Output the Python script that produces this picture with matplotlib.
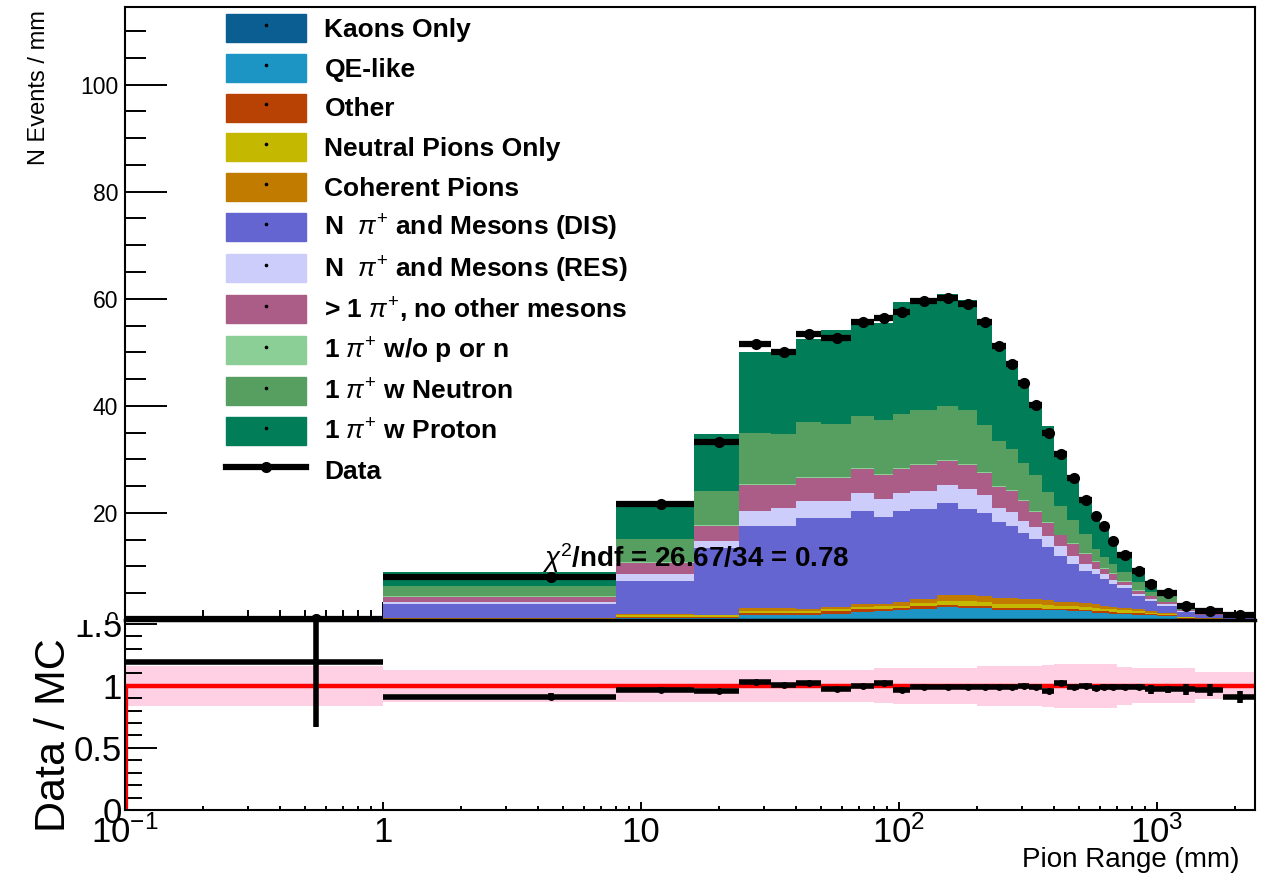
import numpy as np
import matplotlib
matplotlib.use("Agg")
import matplotlib.pyplot as plt
from matplotlib.patches import Patch, Rectangle
from matplotlib.lines import Line2D
from matplotlib.legend_handler import HandlerPatch
from matplotlib.ticker import FixedLocator, FixedFormatter, MultipleLocator, LogLocator, NullFormatter
from matplotlib.transforms import Bbox, TransformedBbox

plt.rcParams['font.family'] = ['Liberation Sans', 'DejaVu Sans']
plt.rcParams['mathtext.fontset'] = 'custom'
plt.rcParams['mathtext.rm'] = 'Liberation Sans'
plt.rcParams['mathtext.it'] = 'Liberation Sans:italic'
plt.rcParams['mathtext.bf'] = 'Liberation Sans:bold'

# ---------------- data ----------------
bin_edges = [0.1, 1, 8, 16, 24, 32, 40, 50, 65, 80, 95, 110, 140, 170, 200, 230, 260,
             290, 320, 360, 400, 450, 500, 560, 600, 650, 700, 800, 900, 1000, 1200,
             1400, 1800, 2400]

kaons_only = [0.0, 0.02, 0.05, 0.05, 0.1, 0.1, 0.1, 0.1, 0.1, 0.1, 0.1, 0.1, 0.15, 0.15, 0.15,
              0.1, 0.1, 0.1, 0.1, 0.1, 0.1, 0.1, 0.1, 0.1, 0.1, 0.1, 0.1, 0.1, 0.1, 0.05,
              0.02, 0.01, 0.01]
qe_like = [0.01, 0.1, 0.35, 0.3, 0.8, 0.8, 0.8, 1.1, 1.4, 1.5, 1.7, 1.9, 2.35, 2.15, 2.05,
           1.8, 1.8, 1.8, 1.8, 1.7, 1.7, 1.6, 1.5, 1.3, 1.2, 1.1, 1.0, 0.9, 0.8, 0.65,
           0.25, 0.1, 0.05]
other = [0.01, 0.06, 0.2, 0.2, 0.5, 0.5, 0.4, 0.5, 0.6, 0.5, 0.5, 0.7, 0.35, 0.3, 0.35,
         0.3, 0.3, 0.3, 0.3, 0.3, 0.3, 0.3, 0.3, 0.3, 0.3, 0.3, 0.3, 0.3, 0.2, 0.2,
         0.1, 0.05, 0.03]
neutral_pions = [0.01, 0.06, 0.25, 0.3, 0.3, 0.3, 0.4, 0.4, 0.4, 0.5, 0.4, 0.5, 0.75, 0.9, 0.85,
                 0.8, 0.8, 0.7, 0.7, 0.7, 0.6, 0.6, 0.6, 0.6, 0.5, 0.5, 0.4, 0.4, 0.3, 0.3,
                 0.15, 0.12, 0.05]
coherent = [0.01, 0.06, 0.25, 0.15, 0.5, 0.5, 0.4, 0.4, 0.4, 0.4, 0.6, 0.7, 1.1, 1.1, 1.1,
            1.2, 1.1, 1.1, 1.0, 0.9, 0.7, 0.7, 0.7, 0.6, 0.6, 0.5, 0.4, 0.3, 0.3, 0.2,
            0.1, 0.07, 0.04]
npi_dis = [0.05, 2.7, 6.2, 12.5, 15.4, 15.4, 16.9, 16.5, 17.4, 16.2, 17.0, 16.8, 17.1, 16.2, 15.4,
           14.1, 13.5, 12.3, 11.2, 9.9, 8.6, 7.2, 6.0, 5.7, 5.0, 4.2, 3.8, 2.4, 1.9, 1.3,
           0.88, 0.5, 0.3]
npi_res = [0.01, 0.4, 1.3, 1.3, 2.7, 3.4, 3.3, 3.3, 3.4, 3.4, 3.4, 3.4, 3.4, 3.7, 3.4,
           2.7, 2.6, 2.2, 2.2, 2.0, 1.8, 1.5, 1.2, 1.0, 0.9, 0.8, 0.5, 0.5, 0.4, 0.3,
           0.15, 0.08, 0.05]
multi_pi = [0.02, 0.95, 2.1, 2.8, 4.9, 4.2, 4.3, 4.3, 4.5, 4.4, 4.5, 4.8, 4.5, 4.5, 4.1,
            3.8, 3.9, 3.8, 2.8, 2.5, 2.0, 2.2, 2.0, 1.2, 1.0, 1.1, 0.6, 0.6, 0.4, 0.3,
            0.25, 0.15, 0.1]
one_pi_no_pn = [0.01, 0.1, 0.15, 0.15, 0.2, 0.2, 0.2, 0.2, 0.2, 0.2, 0.2, 0.2, 0.2, 0.2, 0.2,
                0.2, 0.2, 0.2, 0.2, 0.2, 0.15, 0.15, 0.15, 0.15, 0.1, 0.1, 0.1, 0.1, 0.1, 0.05,
                0.05, 0.02, 0.02]
one_pi_neutron = [0.03, 1.95, 4.35, 6.35, 9.6, 9.3, 10.1, 9.8, 9.7, 10.2, 10.0, 10.1, 10.0, 10.0, 8.9,
                  8.5, 7.6, 6.8, 6.8, 5.6, 5.35, 4.35, 3.55, 2.35, 2.1, 1.8, 1.8, 1.5, 0.8, 1.05,
                  0.45, 0.25, 0.2]
one_pi_proton = [0.05, 2.5, 7.1, 10.6, 15.1, 14.9, 15.6, 17.6, 17.6, 18.0, 21.0, 20.9, 20.9, 20.5, 19.8,
                 18.2, 16.4, 15.0, 13.4, 12.4, 9.1, 8.1, 6.3, 6.6, 5.9, 4.4, 3.3, 2.2, 1.7, 0.75,
                 0.38, 0.3, 0.25]

data_values = [0.25, 8.1, 21.6, 33.3, 51.6, 50.1, 53.5, 52.6, 55.7, 56.5, 57.6, 59.5, 60.2, 59.1, 55.7,
               51.2, 47.8, 44.3, 40.1, 34.9, 31.0, 26.5, 22.4, 19.5, 17.5, 14.8, 12.2, 9.2, 6.8, 5.0,
               2.7, 1.6, 1.0]
data_errors = [0.11, 0.25, 0.45, 0.55, 0.6, 0.6, 0.55, 0.5, 0.55, 0.6, 0.6, 0.5, 0.55, 0.55, 0.55,
               0.55, 0.55, 0.5, 0.45, 0.45, 0.4, 0.4, 0.35, 0.4, 0.35, 0.35, 0.3, 0.25, 0.25, 0.15,
               0.12, 0.08, 0.05]
mc_rel_unc = [0.16, 0.13, 0.13, 0.13, 0.13, 0.13, 0.13, 0.13, 0.13, 0.14, 0.145, 0.145, 0.145, 0.145, 0.16,
              0.16, 0.16, 0.16, 0.16, 0.17, 0.175, 0.175, 0.175, 0.175, 0.175, 0.175, 0.155, 0.14, 0.14, 0.14,
              0.14, 0.11, 0.11]

chi2_value = 26.67
ndf_value = 34

components = [
    ("Kaons Only", kaons_only, "#0b5e91"),
    ("QE-like", qe_like, "#1c94c4"),
    ("Other", other, "#b84203"),
    ("Neutral Pions Only", neutral_pions, "#c5b800"),
    ("Coherent Pions", coherent, "#c17c00"),
    (r"N  $\pi^{+}$ and Mesons (DIS)", npi_dis, "#6565d1"),
    (r"N  $\pi^{+}$ and Mesons (RES)", npi_res, "#cdcdfb"),
    (r"> 1 $\pi^{+}$, no other mesons", multi_pi, "#ab5c87"),
    (r"1 $\pi^{+}$ w/o p or n", one_pi_no_pn, "#8ccf96"),
    (r"1 $\pi^{+}$ w Neutron", one_pi_neutron, "#579e61"),
    (r"1 $\pi^{+}$ w Proton", one_pi_proton, "#017d58"),
]

xtick_values = [0.1, 1, 10, 100, 1000]
xtick_labels = [r"$10^{-1}$", "1", "10", r"$10^{2}$", r"$10^{3}$"]
ratio_tick_values = [0, 0.5, 1, 1.5]
ratio_tick_labels = ["0", "0.5", "1", "1.5"]

# ---------------- figure ----------------
W, H = 1264, 875
fig = plt.figure(figsize=(W / 100, H / 100), dpi=100)


def rect(x0, y0, x1, y1):
    return [x0 / W, 1 - y1 / H, (x1 - x0) / W, (y1 - y0) / H]


ax_r = fig.add_axes(rect(125, 620, 1255, 810))
ax = fig.add_axes(rect(125, 7, 1255, 620))

edges = np.array(bin_edges, dtype=float)
lo, hi = edges[:-1], edges[1:]
centers = 0.5 * (lo + hi)
data = np.array(data_values)
derr = np.array(data_errors)

base = np.zeros(len(centers))
handles = []
for label, vals, color in components:
    top = base + np.array(vals)
    ax.stairs(top, edges, baseline=base, fill=True, color=color, lw=0, zorder=2)
    base = top
    handles.append((Patch(facecolor=color, edgecolor=color),
                    Line2D([], [], marker='o', ms=1.6, color='black', ls='')))
mc_total = base

ax.errorbar(centers, data, xerr=[centers - lo, hi - centers], yerr=derr, fmt='o',
            color='black', ms=7, elinewidth=4.5, capsize=0, zorder=5)

ax.set_xscale('log')
ax.set_xlim(edges[0], edges[-1])
ax.set_ylim(0, 114.5)
ax.yaxis.set_major_locator(MultipleLocator(20))
ax.yaxis.set_minor_locator(MultipleLocator(5))
ax.xaxis.set_major_locator(FixedLocator(xtick_values))
ax.xaxis.set_minor_locator(LogLocator(base=10, subs=np.arange(2, 10), numticks=20))
ax.xaxis.set_minor_formatter(NullFormatter())
ax.tick_params(axis='y', which='major', direction='in', length=30, width=1.4,
               labelsize=16.5, pad=5, right=False)
ax.tick_params(axis='y', which='minor', direction='in', length=15, width=1.4, right=False)
ax.tick_params(axis='x', which='major', direction='in', length=13, width=1.4,
               labelbottom=False, top=False)
ax.tick_params(axis='x', which='minor', direction='in', length=7, width=1.4, top=False)
for s in ax.spines.values():
    s.set_linewidth(1.5)
ax.spines['bottom'].set_linewidth(2.5)
ax.set_ylabel('N Events / mm', fontsize=17, ha='right', va='center')
ax.yaxis.set_label_coords((39 - 125) / 1130, 1 - 3 / 613)

ax.text(0.505, 0.101,
        r"$\chi^{2}$/ndf = " + f"{chi2_value:.2f}/{ndf_value} = {chi2_value / ndf_value:.2f}",
        transform=ax.transAxes, ha='center', va='center', fontsize=20, fontweight='bold', zorder=6)

# legend: every row gets the same handle box; the coloured box inside is 28 px high
LEG_FS = 19.0
BOX_PT = 28 * 72 / 100


def centered_box(legend, orig_handle, xdescent, ydescent, width, height, fontsize):
    return Rectangle((-xdescent, -ydescent + (height - BOX_PT) / 2), width, BOX_PT)


handles.append(Line2D([], [], color='black', lw=4.5, marker='o', ms=7))
labels = [c[0] for c in components] + ["Data"]
ax.legend(handles, labels, loc='upper left', bbox_to_anchor=(226 / W, 1 - 13 / H),
          bbox_transform=fig.transFigure, frameon=False, borderpad=0, borderaxespad=0,
          prop={'weight': 'bold', 'size': LEG_FS}, handlelength=3.03, handleheight=1.36,
          labelspacing=0.38, handletextpad=0.7,
          handler_map={Patch: HandlerPatch(patch_func=centered_box)})

# ---------------- ratio panel ----------------
ratio = data / mc_total
ratio_err = derr / mc_total
band = np.array(mc_rel_unc)
ones = np.ones(len(centers))

ax_r.stairs(ones + band, edges, baseline=ones - band, fill=True, color='#ffd0e4', lw=0, zorder=1)
ax_r.stairs(ones, edges, baseline=None, color='#ff0000', lw=3.2, zorder=2)
ax_r.vlines(edges[0], 0, ones[0], color='#ff0000', lw=4.5, zorder=2)
ax_r.errorbar(centers, ratio, xerr=[centers - lo, hi - centers], yerr=ratio_err, fmt='o',
              color='black', ms=4, elinewidth=4, capsize=0, zorder=3)

ax_r.set_xscale('log')
ax_r.set_xlim(edges[0], edges[-1])
ax_r.set_ylim(0, 1.53)
ax_r.xaxis.set_major_locator(FixedLocator(xtick_values))
ax_r.xaxis.set_major_formatter(FixedFormatter(xtick_labels))
ax_r.xaxis.set_minor_locator(LogLocator(base=10, subs=np.arange(2, 10), numticks=20))
ax_r.xaxis.set_minor_formatter(NullFormatter())
ax_r.yaxis.set_major_locator(FixedLocator(ratio_tick_values))
ax_r.yaxis.set_major_formatter(FixedFormatter(ratio_tick_labels))
ax_r.yaxis.set_minor_locator(MultipleLocator(0.1))
ax_r.tick_params(axis='x', which='major', direction='in', length=6, width=1.4,
                 labelsize=25, pad=4, top=False)
ax_r.tick_params(axis='x', which='minor', direction='in', length=3, width=1.4, top=False)
ax_r.tick_params(axis='y', which='major', direction='in', length=23, width=1.4,
                 labelsize=25, pad=2, right=False)
ax_r.tick_params(axis='y', which='minor', direction='in', length=12, width=1.4, right=False)
for s in ax_r.spines.values():
    s.set_linewidth(1.5)
ax_r.set_ylabel('Data / MC', fontsize=31, va='center', ha='center')
ax_r.yaxis.set_label_coords((54 - 125) / 1130, (810 - 735) / 190)
ax_r.set_xlabel('Pion Range (mm)', fontsize=20, ha='right', va='center')
ax_r.xaxis.set_label_coords((1240 - 125) / 1130, (810 - 860) / 190)

# clip tick labels to their own pad (as the two pads do in the original)
fig.canvas.draw()
split = 1 - 620 / H
top_clip = TransformedBbox(Bbox([[0, split], [1, 1]]), fig.transFigure)
bot_clip = TransformedBbox(Bbox([[0, 0], [1, split]]), fig.transFigure)
for t in ax.yaxis.get_major_ticks():
    t.label1.set_clip_box(top_clip)
    t.label1.set_clip_on(True)
for t in ax_r.yaxis.get_major_ticks():
    t.label1.set_clip_box(bot_clip)
    t.label1.set_clip_on(True)

fig.savefig('out.png', dpi=100)
